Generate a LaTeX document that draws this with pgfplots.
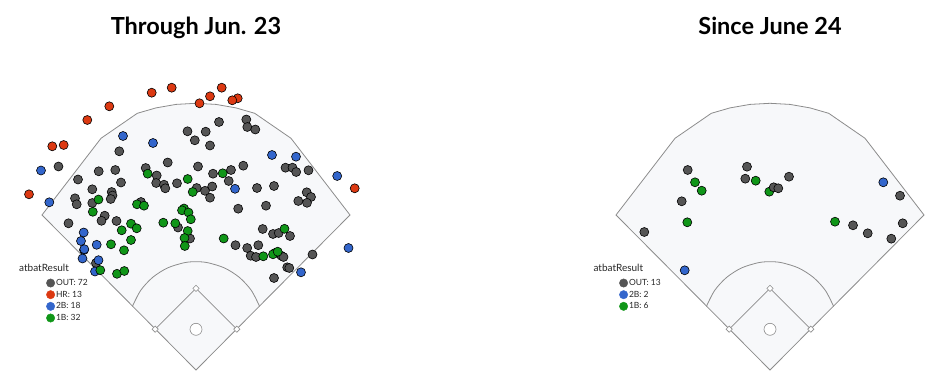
\documentclass[border=0pt]{standalone}
\usepackage{fontspec}
\setmainfont{Lato}
\usepackage{pgfplots}
\pgfplotsset{compat=1.18}
\definecolor{outc}{HTML}{555555}
\definecolor{hrc}{HTML}{DC3912}
\definecolor{dbc}{HTML}{3366CC}
\definecolor{sgc}{HTML}{109618}
\definecolor{fieldfill}{HTML}{F7F8FA}
\definecolor{fieldline}{HTML}{8C8C8C}
\pgfplotsset{
  field/.style={hide axis, x=1pt, y=1pt, ymin=-10, ymax=370, clip=false,
    anchor=south west,
    legend style={draw=none, fill=none, font=\fontsize{8.5}{9.5}\selectfont,
      row sep=2pt, inner sep=0pt, nodes={inner sep=1pt, text=black!85}},
    legend cell align=left},
  pts/.style={only marks, mark=*, mark size=4.5pt,
    mark options={draw=black, line width=0.6pt, fill=#1}, forget plot},
  leg/.style={legend image code/.code={\fill[#1] (4pt,0pt) circle (4.2pt);}},
  fence/.style={fill=fieldfill, draw=fieldline, line width=0.8pt, forget plot},
  fline/.style={draw=fieldline, line width=0.8pt, forget plot, mark=none},
  base/.style={only marks, mark=square*, mark size=2.2pt,
    mark options={rotate=45, fill=white, draw=fieldline, line width=0.6pt}, forget plot},
}
\newcommand{\drawfield}{%
  \addplot[fence] coordinates {(0,0) (-154,155) (-95,231.7) (-58.7,256.7)
    (-40,262.1) (-20,265.6) (0,266.7) (20,265.6) (40,262.1) (58.7,256.7)
    (95,231.7) (154,155) (0,0)} -- cycle;
  \addplot[fline, smooth] coordinates {(63.6,63.6) (55.4,79.5) (43.5,92.5)
    (28.6,102.0) (11.7,107.3) (0,108.3) (-11.7,107.3) (-28.6,102.0)
    (-43.5,92.5) (-55.4,79.5) (-63.6,63.6)};
  \addplot[fline] coordinates {(40.8,40.8) (0,81.6) (-40.8,40.8)};
  \addplot[base] coordinates {(40.8,40.8) (0,81.6) (-40.8,40.8)};
  \addplot[only marks, mark=*, mark size=6pt,
    mark options={fill=white, draw=fieldline, line width=0.6pt}, forget plot]
    coordinates {(0,40.7)};
  \addplot[draw=black!70, line width=0.7pt, forget plot, mark=none] coordinates {(-2,40.7) (2,40.7)};
}
\begin{document}
\begin{tikzpicture}
\begin{axis}[field, xmin=-196, xmax=280,
  legend style={at={(axis cs:-150,92)}, anchor=north west}]
\path (rel axis cs:0,0) rectangle (rel axis cs:1,1);
\drawfield
% OUT
\addplot[pts=outc] coordinates {
(-8.5,238.7) (-1.2,229.7) (-76.7,218.7) (-137.5,203.5) (-118,190.5)
(-97.3,198.7) (-80.7,200) (-28.3,207.5) (-50.3,202) (-39.3,194.5)
(2,203.5) (-75,187.5) (-39.8,187) (-32,185.3) (-30.7,181.7)
(-19,186.7) (23,248) (50.3,250.5) (51.3,243) (59.3,240.5)
(9.7,238.3) (14,224.5) (17,196.3) (35,200) (47.3,204.3)
(32.7,189) (89.5,202.3) (96.5,202.3) (100.2,198) (112.5,199.7)
(16.2,183.5) (9,179.2) (0.7,182) (14,172.3) (61,182)
(78,184) (110.7,177.7) (115,173) (102.3,169) (111,167.2)
(42.2,161.3) (70,164.3) (66.7,141) (77,136) (82.7,137)
(94,134) (39.5,124.8) (51.2,122) (62.3,124.8) (54.7,114.3)
(60,113) (85.3,114.3) (87.5,113) (116.5,115.5) (91.2,102.7)
(93.3,102) (78,92) (-6,131.5) (-103.7,180.7) (-121,171.7)
(-119.3,165.7) (-103.7,167) (-84.3,178) (-83.5,174.5) (-85.3,171)
(-91.3,154.3) (-94.5,149.2) (-127.5,146.7) (-79.5,149) (-55,168)
(-18,142.5) (-100,107)};
% HR
\addplot[pts=hrc] coordinates {
(-44.3,277.3) (-24.3,282.3) (-86.7,263.7) (-108.7,250) (-143.7,223.7)
(-132.3,225) (3.5,266.7) (25.7,282.3) (14,273.7) (41.7,271.7)
(36.3,269.7) (-167,175.7) (158.7,181.7)};
% 2B
\addplot[pts=dbc] coordinates {
(-112,120) (-73,234) (-43,227) (-155,199.5) (-146.7,167.7) (76,215)
(100,213.3) (141.2,194) (39,181.2) (152.5,122) (105,97.7)
(-112.3,137.5) (-115,129) (-111.7,120.8) (-113.5,111.5) (-99.3,125.2)
(-97.5,109.8) (-101,98.5)};
% 1B
\addplot[pts=sgc] coordinates {
(-48.3,196.3) (-8.3,191) (-3.3,178) (26.7,196.7) (-97.5,170.5)
(-103.2,158.2) (-59,165.7) (-52,164.3) (-74.3,139.7) (-65,146.3)
(-59.3,141.7) (-65,130) (-85,125.7) (-72,119.7) (-32.7,147.3)
(-20.7,146.7) (-12,161.5) (-14,159.7) (-7.5,157.5) (-5.2,150.7) (-8.3,139)
(-11.5,132) (-11.2,124) (-95.7,99.8) (-79,96.2) (-71.7,99)
(27.7,131.5) (88.5,141.2) (67.3,113.7) (79,117) (77,115.7) (81.7,118.3)};
\addlegendimage{leg=outc}
\addlegendimage{leg=hrc}
\addlegendimage{leg=dbc}
\addlegendimage{leg=sgc}
\legend{OUT: 72, HR: 13, 2B: 18, 1B: 32}
\node[font=\bfseries\fontsize{23.5}{27}\selectfont, anchor=base] at (axis cs:0,335.7) {Through Jun. 23};
\node[font=\fontsize{10}{12}\selectfont, anchor=base west, inner sep=0pt, text=black!85] at (axis cs:-177,98) {atbatResult};
\end{axis}
\begin{axis}[field, xmin=-294, xmax=182, at={(476pt,0pt)},
  legend style={at={(axis cs:-151,92)}, anchor=north west}]
\path (rel axis cs:0,0) rectangle (rel axis cs:1,1);
\drawfield
% OUT
\addplot[pts=outc] coordinates {
(-82.3,200) (-88.3,168.7) (-125.7,138) (-23,203.3) (-24.7,191.3)
(19,193.3) (130,174.3) (132.7,146.7) (83,144.7) (97.7,136.7) (121.3,131.3)};
% 2B
\addplot[pts=dbc] coordinates {(113.3,187.7) (-85.3,99.7)};
% 1B
\addplot[pts=sgc] coordinates {
(-75,187.7) (-68.3,179.3) (-14.3,189.3) (-0.7,178.3) (-82.7,147.7) (65,148.3)};
\addplot[pts=outc] coordinates {(3.7,182.7) (8.3,181.7)};
\addlegendimage{leg=outc}
\addlegendimage{leg=dbc}
\addlegendimage{leg=sgc}
\legend{OUT: 13, 2B: 2, 1B: 6}
\node[font=\bfseries\fontsize{23.5}{27}\selectfont, anchor=base] at (axis cs:0,335.7) {Since June 24};
\node[font=\fontsize{10}{12}\selectfont, anchor=base west, inner sep=0pt, text=black!85] at (axis cs:-176.7,98) {atbatResult};
\end{axis}
\end{tikzpicture}
\end{document}
